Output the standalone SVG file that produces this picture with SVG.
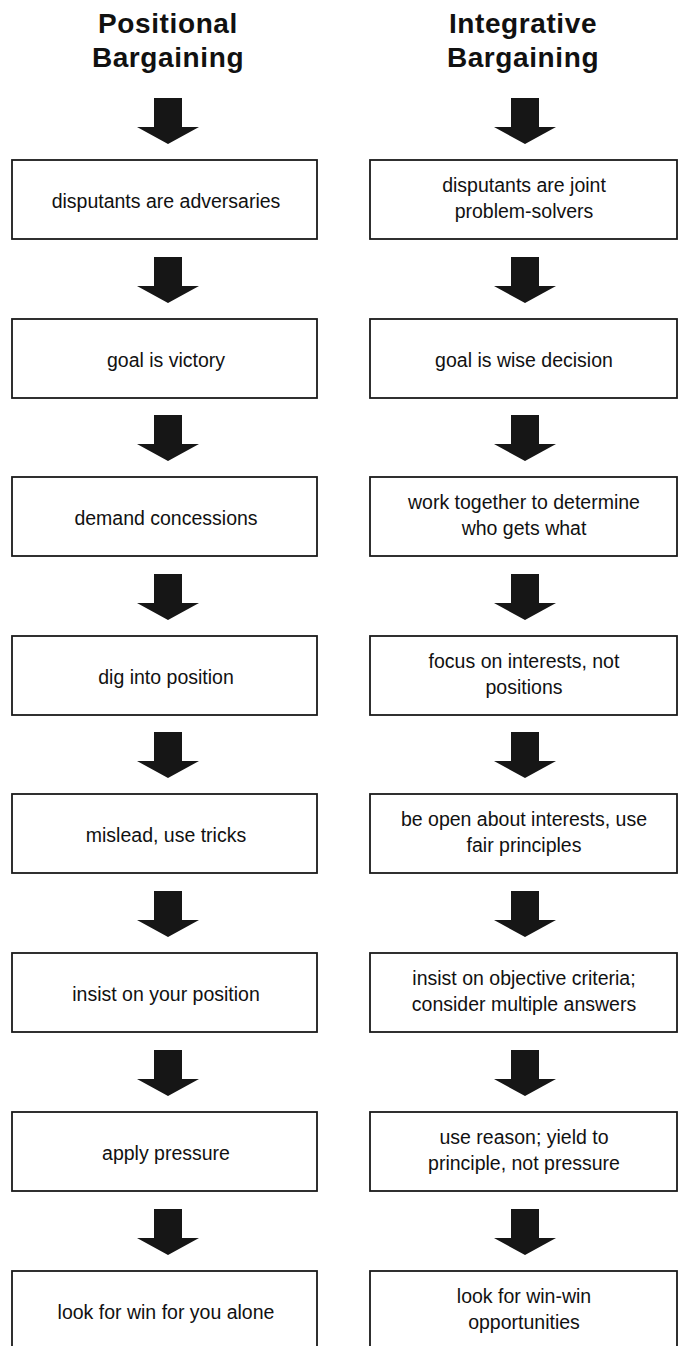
<svg xmlns="http://www.w3.org/2000/svg" width="686" height="1346" viewBox="0 0 686 1346">
<style>
.title{font-family:"Liberation Sans",Arial,sans-serif;font-size:28px;font-weight:bold;fill:#111;text-anchor:middle;letter-spacing:0.6px}
.box{fill:#fff;stroke:#1a1a1a;stroke-width:1.8}
.lbl{font-family:"Liberation Sans",Arial,sans-serif;font-size:19.5px;fill:#111;text-anchor:middle}
.arrow{fill:#161616}
</style>
<defs>
<polygon id="arr" points="-14,-46 14,-46 14,-17 31,-17 0,0 -31,-17 -14,-17"/>
</defs>
<rect width="686" height="1346" fill="#fff"/>
<g id="titles">
<g id="title-left"><text class="title" x="168" y="33">Positional</text><text class="title" x="168" y="67">Bargaining</text></g>
<g id="title-right"><text class="title" x="523" y="33">Integrative</text><text class="title" x="523" y="67">Bargaining</text></g>
</g>
<g id="connectors" class="arrow">
<use href="#arr" x="168" y="144"/><use href="#arr" x="525" y="144"/>
<use href="#arr" x="168" y="303"/><use href="#arr" x="525" y="303"/>
<use href="#arr" x="168" y="461"/><use href="#arr" x="525" y="461"/>
<use href="#arr" x="168" y="620"/><use href="#arr" x="525" y="620"/>
<use href="#arr" x="168" y="778"/><use href="#arr" x="525" y="778"/>
<use href="#arr" x="168" y="937"/><use href="#arr" x="525" y="937"/>
<use href="#arr" x="168" y="1096"/><use href="#arr" x="525" y="1096"/>
<use href="#arr" x="168" y="1255"/><use href="#arr" x="525" y="1255"/>
</g>
<g id="L1"><rect class="box" x="12" y="160" width="305" height="79"/><text class="lbl" x="166" y="208">disputants are adversaries</text></g>
<g id="L2"><rect class="box" x="12" y="319" width="305" height="79"/><text class="lbl" x="166" y="367">goal is victory</text></g>
<g id="L3"><rect class="box" x="12" y="477" width="305" height="79"/><text class="lbl" x="166" y="525">demand concessions</text></g>
<g id="L4"><rect class="box" x="12" y="636" width="305" height="79"/><text class="lbl" x="166" y="684">dig into position</text></g>
<g id="L5"><rect class="box" x="12" y="794" width="305" height="79"/><text class="lbl" x="166" y="842">mislead, use tricks</text></g>
<g id="L6"><rect class="box" x="12" y="953" width="305" height="79"/><text class="lbl" x="166" y="1001">insist on your position</text></g>
<g id="L7"><rect class="box" x="12" y="1112" width="305" height="79"/><text class="lbl" x="166" y="1160">apply pressure</text></g>
<g id="L8"><rect class="box" x="12" y="1271" width="305" height="90"/><text class="lbl" x="166" y="1319">look for win for you alone</text></g>
<g id="R1"><rect class="box" x="370" y="160" width="307" height="79"/><text class="lbl" x="524" y="192">disputants are joint</text><text class="lbl" x="524" y="218">problem-solvers</text></g>
<g id="R2"><rect class="box" x="370" y="319" width="307" height="79"/><text class="lbl" x="524" y="367">goal is wise decision</text></g>
<g id="R3"><rect class="box" x="370" y="477" width="307" height="79"/><text class="lbl" x="524" y="509">work together to determine</text><text class="lbl" x="524" y="535">who gets what</text></g>
<g id="R4"><rect class="box" x="370" y="636" width="307" height="79"/><text class="lbl" x="524" y="668">focus on interests, not</text><text class="lbl" x="524" y="694">positions</text></g>
<g id="R5"><rect class="box" x="370" y="794" width="307" height="79"/><text class="lbl" x="524" y="826">be open about interests, use</text><text class="lbl" x="524" y="852">fair principles</text></g>
<g id="R6"><rect class="box" x="370" y="953" width="307" height="79"/><text class="lbl" x="524" y="985">insist on objective criteria;</text><text class="lbl" x="524" y="1011">consider multiple answers</text></g>
<g id="R7"><rect class="box" x="370" y="1112" width="307" height="79"/><text class="lbl" x="524" y="1144">use reason; yield to</text><text class="lbl" x="524" y="1170">principle, not pressure</text></g>
<g id="R8"><rect class="box" x="370" y="1271" width="307" height="90"/><text class="lbl" x="524" y="1303">look for win-win</text><text class="lbl" x="524" y="1329">opportunities</text></g>
</svg>
